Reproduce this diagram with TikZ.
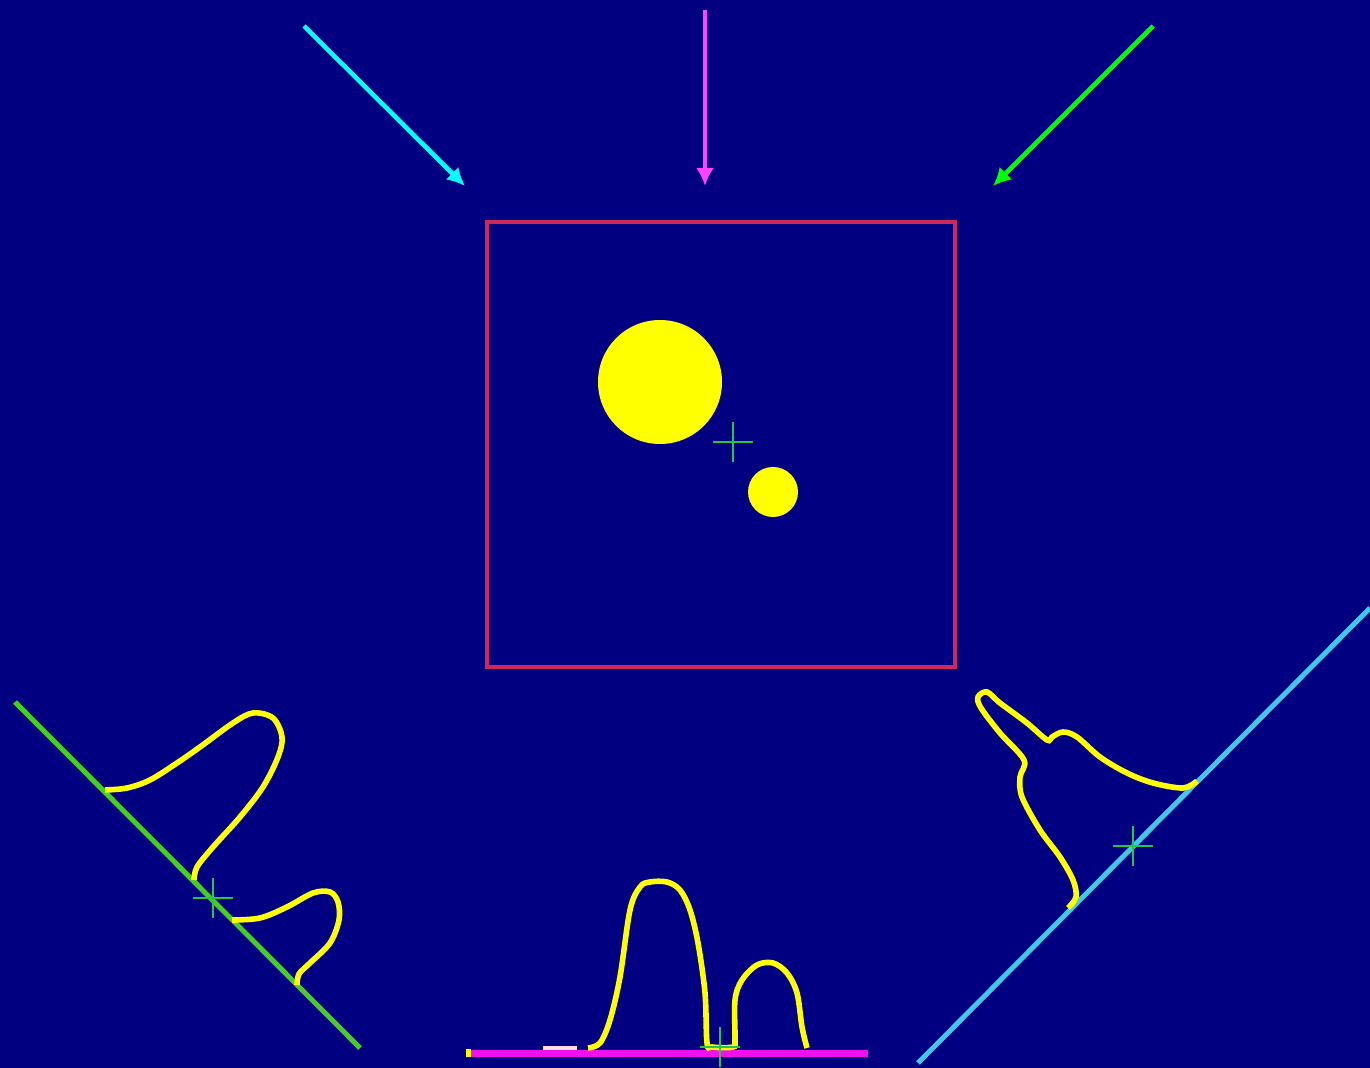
\documentclass[tikz,border=0pt]{standalone}
\usepackage{xcolor}
\usepackage{tikz}
\usetikzlibrary{arrows.meta,calc}
\definecolor{ScanNavy}{HTML}{000080}
\definecolor{BeamCyan}{HTML}{00FFFF}
\definecolor{BeamPink}{HTML}{FF44FF}
\definecolor{BeamGreen}{HTML}{00FF00}
\definecolor{FrameRed}{HTML}{CC2858}
\definecolor{BlobYellow}{HTML}{FFFF00}
\definecolor{CrossGreen}{HTML}{22C844}
\definecolor{AxisGreen}{HTML}{44D022}
\definecolor{AxisCyan}{HTML}{40C8E8}
\definecolor{AxisPink}{HTML}{F010F0}
\definecolor{PaleMark}{HTML}{FFDDEE}
\newcommand{\centremark}[1]{%
  \draw[CrossGreen,line width=0.8pt] ($(#1)+(-20,0)$) -- ($(#1)+(20,0)$)
    ($(#1)+(0,-20)$) -- ($(#1)+(0,20)$);%
}

\begin{document}
\begin{tikzpicture}[x=0.5pt,y=-0.5pt,>={Latex[length=9pt,width=9pt]},
    beam/.style={->,line width=2.3pt},
    profile/.style={BlobYellow,line width=2.8pt,smooth,tension=0.55}]
    \fill[ScanNavy] (0,0) rectangle (1370,1068);
    \useasboundingbox (0,0) rectangle (1370,1068);
    % incoming beams
    \coordinate (leftsrc) at (304,26);
    \coordinate (lefthit) at (465,186);
    \coordinate (midsrc) at (705,10);
    \coordinate (midhit) at (705,186);
    \coordinate (rightsrc) at (1153,26);
    \coordinate (righthit) at (993,186);
    \draw[beam,BeamCyan] (leftsrc) -- (lefthit);
    \draw[beam,BeamPink] (midsrc) -- (midhit);
    \draw[beam,BeamGreen] (rightsrc) -- (righthit);
    % object
    \draw[FrameRed,line width=2.2pt] (487,222) rectangle (955,667);
    \fill[BlobYellow] (660,382) circle[radius=62];
    \fill[BlobYellow] (773,492) circle[radius=25];
    \coordinate (objcentre) at (733,442);
    \centremark{objcentre}
    % left projection
    \draw[AxisGreen,line width=2.5pt] (15,702) -- (360,1048);
    \draw[profile] plot coordinates {(105,790) (127,788) (150,780) (177,763)
      (200,747) (233,723) (253,713) (273,718) (282,737) (278,757) (263,787)
      (240,817) (213,847) (197,867) (194,880)};
    \draw[profile] plot coordinates {(232,920) (260,918) (287,907) (313,893)
      (330,892) (338,902) (339,920) (330,943) (310,963) (299,974) (297,985)};
    \coordinate (leftcentre) at (213,898);
    \centremark{leftcentre}
    % right projection
    \draw[AxisCyan,line width=2.5pt] (918,1063) -- (1370,608);
    \draw[profile] plot coordinates {(1197,781) (1183,788) (1153,783) (1127,773)
      (1100,757) (1077,737) (1063,732) (1052,737) (1047,740) (1027,723)
      (1000,703) (987,692) (978,697) (981,708) (1000,733) (1024,760)
      (1020,777) (1022,797) (1040,830) (1060,857) (1073,880) (1076,897)
      (1068,908)};
    \coordinate (rightcentre) at (1133,846);
    \centremark{rightcentre}
    % bottom projection
    \draw[AxisPink,line width=3.5pt] (467,1053) -- (868,1053);
    \fill[BlobYellow] (466,1049) rectangle (471,1057);
    \draw[PaleMark,line width=2pt] (543,1048) -- (577,1048);
    \draw[profile] plot coordinates {(588,1048) (600,1043) (610,1020) (620,977)
      (630,910) (640,887) (650,882) (667,882) (680,890) (690,910) (698,943)
      (705,993) (707,1043) (712,1047) (733,1047) (735,1040) (735,1000)
      (742,980) (757,965) (773,963) (787,973) (797,993) (802,1027) (807,1048)};
    \coordinate (midcentre) at (720,1047);
    \centremark{midcentre}
  \end{tikzpicture}
\end{document}
